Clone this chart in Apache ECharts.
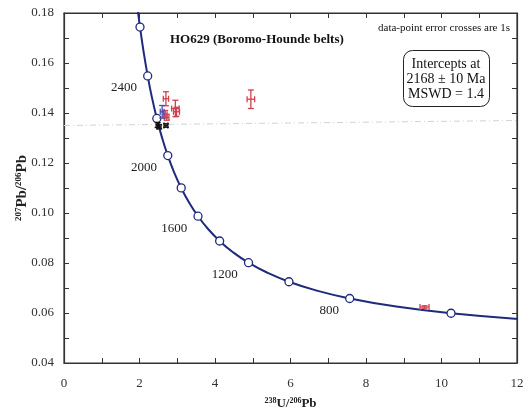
<!DOCTYPE html>
<html><head><meta charset="utf-8">
<script src="https://cdn.jsdelivr.net/npm/echarts@6/dist/echarts.min.js"></script>
<style>html,body{margin:0;padding:0;background:#fff}#c{width:530px;height:415px}</style>
</head><body><div id="c"></div>
<script>
// Concordia curve points (age in Ma, 238U/206Pb, 207Pb/206Pb)
const concordiaAge = [500,600,700,800,900,1000,1100,1200,1300,1400,1500,1600,1700,1800,1900,2000,2100,2200,2300,2400,2500,2600,2700];
const concordiaX = [12.399,10.252,8.718,7.568,6.674,5.959,5.375,4.888,4.476,4.123,3.817,3.550,3.314,3.105,2.917,2.749,2.597,2.459,2.332,2.217,2.111,2.013,1.922];
const concordiaY = [0.05722,0.05990,0.06276,0.06580,0.06904,0.07250,0.07619,0.08012,0.08432,0.08881,0.09360,0.09872,0.10419,0.11004,0.11629,0.12299,0.13015,0.13782,0.14604,0.15483,0.16426,0.17437,0.18520];
const markerAges = [600,800,1000,1200,1400,1600,1800,2000,2200,2400,2600];
const labelAges = [800,1200,1600,2000,2400];

// Discordia reference line
const discordiaX = [0, 12];
const discordiaY = [0.1350, 0.1370];

// Analyses (x, y, 1s errors)
const redX = [2.70, 2.95, 2.98, 4.95, 2.72, 2.68, 9.55];
const redY = [0.1457, 0.1418, 0.1405, 0.1455, 0.1383, 0.1395, 0.0624];
const redSX = [0.07, 0.10, 0.08, 0.10, 0.06, 0.05, 0.12];
const redSY = [0.0028, 0.0033, 0.0018, 0.0037, 0.0012, 0.0015, 0.0005];
const blueX = [2.60];
const blueY = [0.1405];
const blueSX = [0.05];
const blueSY = [0.0025];
const blackX = [2.48, 2.52, 2.70];
const blackY = [0.1352, 0.1345, 0.1350];
const blackSX = [0.04, 0.05, 0.05];
const blackSY = [0.0010, 0.0008, 0.0007];

const xTicks = [0,2,4,6,8,10,12];
const yTicks = [0.04,0.06,0.08,0.10,0.12,0.14,0.16,0.18];

const SERIF = '"Liberation Serif","DejaVu Serif",serif';
const navy = '#1f2a7c';

function zip4(a,b,c,d){return a.map((v,i)=>[v,b[i],c[i],d[i]]);}
function errSeries(name, data, color){
  return {
    name, type:'custom', data, z:5,
    renderItem(params, api){
      const x=api.value(0), y=api.value(1), sx=api.value(2), sy=api.value(3);
      const l=api.coord([x-sx,y]), r=api.coord([x+sx,y]);
      const t=api.coord([x,y+sy]), b=api.coord([x,y-sy]);
      const cap=3;
      const st={stroke:color, lineWidth:1.3};
      const line=(x1,y1,x2,y2)=>({type:'line',shape:{x1,y1,x2,y2},style:st});
      return {type:'group',children:[
        line(l[0],l[1],r[0],r[1]),
        line(t[0],t[1],b[0],b[1]),
        line(l[0],l[1]-cap,l[0],l[1]+cap),
        line(r[0],r[1]-cap,r[0],r[1]+cap),
        line(t[0]-cap,t[1],t[0]+cap,t[1]),
        line(b[0]-cap,b[1],b[0]+cap,b[1])
      ]};
    }
  };
}

const curveData = concordiaX.map((x,i)=>[x,concordiaY[i]]);
const markerData = markerAges.map(a=>{
  const i=concordiaAge.indexOf(a);
  return {value:[concordiaX[i],concordiaY[i]], label:{show:labelAges.includes(a), formatter:String(a)}};
});

const axisCommon = {
  axisLine:{show:true,onZero:false,lineStyle:{color:'#333',width:1.2}},
  axisTick:{show:true,inside:true,length:5,lineStyle:{color:'#333'}},
  minorTick:{show:true,splitNumber:2,length:5,lineStyle:{color:'#333'}},
  splitLine:{show:false},
  axisLabel:{fontFamily:SERIF,fontSize:13,color:'#333'}
};

const chart = echarts.init(document.getElementById('c'));
chart.setOption({
  animation:false,
  backgroundColor:'#fff',
  grid:{left:64,right:13,top:13,bottom:52,outerBoundsMode:'none',containLabel:false,show:true,borderColor:'#333',borderWidth:1.2},
  xAxis:[{
    type:'value',min:xTicks[0],max:xTicks[xTicks.length-1],interval:2,...axisCommon,
    axisLabel:{...axisCommon.axisLabel,margin:14},
    name:'{s|238}{b|U/}{s|206}{b|Pb}',nameLocation:'middle',nameGap:34,
    nameTextStyle:{rich:{s:{fontFamily:SERIF,fontSize:8,fontWeight:'bold',color:'#222',padding:[0,0,6,0]},b:{fontFamily:SERIF,fontSize:13,fontWeight:'bold',color:'#222'}}}
  },{
    type:'value',position:'top',min:0,max:12,interval:2,...axisCommon,axisLabel:{show:false}
  }],
  yAxis:[{
    type:'value',min:yTicks[0],max:yTicks[yTicks.length-1],interval:0.02,...axisCommon,
    axisLabel:{...axisCommon.axisLabel,margin:10,formatter:v=>v.toFixed(2)},
    name:'{s|207}{b|Pb/}{s|206}{b|Pb}',nameLocation:'middle',nameGap:34,nameRotate:90,nameMoveOverlap:false,
    nameTextStyle:{rich:{s:{fontFamily:SERIF,fontSize:9,fontWeight:'bold',color:'#222',padding:[0,0,7,0]},b:{fontFamily:SERIF,fontSize:15,fontWeight:'bold',color:'#222'}}}
  },{
    type:'value',position:'right',min:0.04,max:0.18,interval:0.02,...axisCommon,axisLabel:{show:false}
  }],
  series:[
    {type:'line',data:discordiaX.map((x,i)=>[x,discordiaY[i]]),symbol:'none',silent:true,
     lineStyle:{color:'#cfd3d8',width:1,type:[6,3,1,3]},z:1},
    {type:'line',data:curveData,smooth:true,symbol:'none',clip:true,lineStyle:{color:navy,width:2},z:2},
    {type:'scatter',data:markerData,symbol:'circle',symbolSize:8,z:3,
     itemStyle:{color:'#ffffff',opacity:1,borderColor:navy,borderWidth:1.3},
     label:{position:'left',distance:6,offset:[0,12],fontFamily:SERIF,fontSize:13,color:'#222'}},
    errSeries('red', zip4(redX,redY,redSX,redSY), '#d2404e'),
    errSeries('blue', zip4(blueX,blueY,blueSX,blueSY), '#4a4fb0'),
    errSeries('black', zip4(blackX,blackY,blackSX,blackSY), '#111')
  ],
  graphic:[
    {type:'text',left:170,top:33,style:{text:'HO629 (Boromo-Hounde belts)',font:'bold 13px '+SERIF,fill:'#111'}},
    {type:'text',right:20,top:23,style:{text:'data-point error crosses are 1s',font:'11px '+SERIF,fill:'#111'}},
    {type:'rect',left:403,top:50,shape:{width:86,height:56,r:9},style:{fill:'#fff',stroke:'#222',lineWidth:1}},
    {type:'text',x:446,y:57,style:{text:'Intercepts at\n2168 ± 10 Ma\nMSWD = 1.4',font:'14px '+SERIF,fill:'#111',align:'center',verticalAlign:'top',lineHeight:15}}
  ]
});
</script></body></html>
